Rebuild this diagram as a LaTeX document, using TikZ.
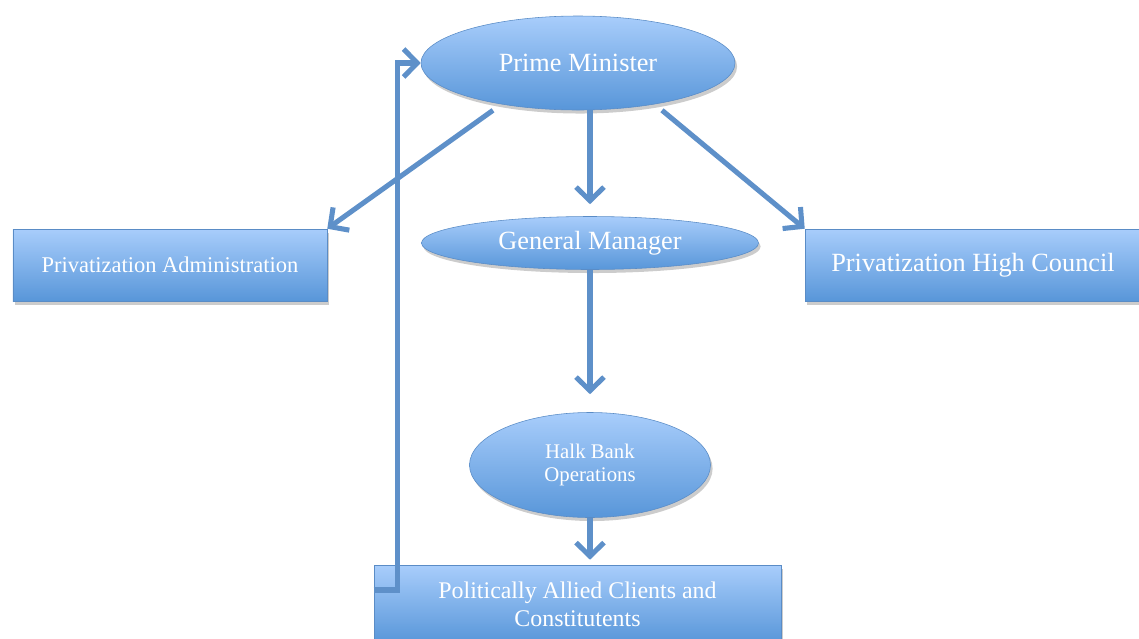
\documentclass[tikz,border=0pt]{standalone}
\usepackage{fontspec}
\setmainfont{Liberation Serif}
\definecolor{BoxTop}{HTML}{A8CDFB}
\definecolor{BoxBottom}{HTML}{5896D9}
\definecolor{BoxEdge}{HTML}{5A8CC6}
\definecolor{LinkBlue}{HTML}{5E90C9}
\usetikzlibrary{shapes.geometric, arrows.meta, positioning, calc, shadows}
\tikzset{
  % Box styles
  orgbox/.style={rectangle, draw=BoxEdge, thin, top color=BoxTop, bottom color=BoxBottom, text=white, align=center, drop shadow={shadow xshift=1.5pt, shadow yshift=-2.5pt, opacity=0.4}},
  orgoval/.style={ellipse, draw=BoxEdge, thin, top color=BoxTop, bottom color=BoxBottom, text=white, align=center, inner sep=0pt, drop shadow={shadow xshift=1.5pt, shadow yshift=-2.5pt, opacity=0.4}},
  % Arrow styles
  link/.style={-{Straight Barb[length=3.4mm, width=7mm]}, line width=3.6pt, LinkBlue, line join=miter},
  backlink/.style={link, line cap=butt}
}
\begin{document}
\begin{tikzpicture}
  \useasboundingbox (0,0) rectangle (28.475,-15.95);

  % Ovals
  \node[orgoval, minimum width=7.85cm, minimum height=2.35cm, font=\fontsize{18.7}{22}\selectfont] (pm) at (14.45,-1.575) {Prime Minister};
  \node[orgoval, minimum width=8.425cm, minimum height=1.325cm, font=\fontsize{18.7}{22}\selectfont] (gm) at (14.75,-6.075) {\raisebox{-1.5pt}{General Manager}};
  \node[orgoval, minimum width=6.025cm, minimum height=2.625cm, font=\fontsize{14.8}{17}\selectfont] (halk) at (14.75,-11.625) {Halk Bank\\Operations};

  % Boxes
  \node[orgbox, minimum width=7.85cm, minimum height=1.8cm, font=\fontsize{16}{19}\selectfont] (pa) at (4.25,-6.625) {\raisebox{-1.5pt}{Privatization Administration}};
  \node[orgbox, minimum width=8.4cm, minimum height=1.8cm, font=\fontsize{18.7}{22}\selectfont] (phc) at (24.325,-6.625) {\raisebox{-3pt}{Privatization High Council}};
  \node[orgbox, minimum width=10.175cm, minimum height=1.95cm, font=\fontsize{17}{19.9}\selectfont] (pac) at (14.4375,-15.1) {Politically Allied Clients and\\Constitutents};

  % Links
  \draw[link] ($(pm.south)+(-2.125,0)$) -- (pa.north east);
  \draw[link] (pm.south -| gm.north) -- ([yshift=0.3cm]gm.north);
  \draw[link] ($(pm.south)+(2.1,0)$) -- (phc.north west);
  \draw[link] (gm.south) -- ([yshift=0.45cm]halk.north);
  \draw[link] (halk.south) -- ([yshift=0.125cm]halk.south |- pac.north);
  \draw[backlink] ([yshift=0.35cm]pac.west) -- ++(0.6,0) |- (pm.west);
\end{tikzpicture}
\end{document}
